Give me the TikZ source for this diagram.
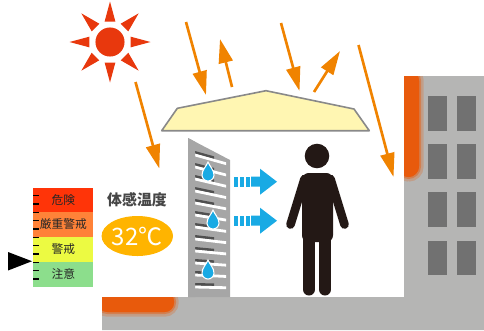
\documentclass[tikz,border=0pt]{standalone}
\usepackage{fontspec}
\newfontfamily\jp{Noto Sans CJK JP}
\usetikzlibrary{arrows.meta,calc}
\definecolor{groundgray}{RGB}{181,181,180}
\definecolor{windowgray}{RGB}{113,113,113}
\definecolor{glowc}{RGB}{232,90,12}
\definecolor{sunred}{RGB}{232,56,13}
\definecolor{rayorange}{RGB}{240,131,0}
\definecolor{canopyfill}{RGB}{255,246,178}
\definecolor{canopyline}{RGB}{137,137,137}
\definecolor{badge}{RGB}{255,180,0}
\definecolor{labelgray}{RGB}{70,70,70}
\definecolor{personc}{RGB}{35,24,21}
\definecolor{dropblue}{RGB}{25,170,228}
\definecolor{panelgray}{RGB}{166,166,166}
\definecolor{slatdark}{RGB}{80,80,80}
\definecolor{lvred}{RGB}{255,52,8}
\definecolor{lvorange}{RGB}{255,130,56}
\definecolor{lvyellow}{RGB}{236,250,66}
\definecolor{lvgreen}{RGB}{140,222,140}
\tikzset{
  ray/.style={draw=rayorange, line width=2pt, -{Triangle[length=18pt,width=10.5pt]}},
  windowbox/.style={fill=windowgray},
  limb/.style={draw=personc, line cap=round},
  tick/.style={draw=black, line width=1pt},
  levellabel/.style={font=\jp\fontsize{8.8pt}{9pt}\selectfont, text=black!85, inner sep=0pt},
  waterdrop/.pic={
    \path[fill=dropblue, draw=white, line width=0.8pt]
      (0,-10) .. controls (1.5,-6) and (6,-2) .. (6,3)
      .. controls (6,6.3) and (3.3,9) .. (0,9)
      .. controls (-3.3,9) and (-6,6.3) .. (-6,3)
      .. controls (-6,-2) and (-1.5,-6) .. (0,-10) -- cycle;
  },
  flowarrow/.pic={
    \fill[dropblue] (0,-5) rectangle (3.5,5);
    \fill[dropblue] (6,-5) rectangle (9.5,5);
    \fill[dropblue] (12,-5) rectangle (15.5,5);
    \fill[dropblue] (17,-5) -- (26,-5) -- (26,-13) -- (43,0) -- (26,13) -- (26,5) -- (17,5) -- cycle;
  }
}
\begin{document}
\begin{tikzpicture}[x=0.75pt,y=-0.75pt]
\useasboundingbox (0,0) rectangle (484,330);

% ground and building
\fill[groundgray] (102,297) -- (404,297) -- (404,76) -- (484,76) -- (484,330) -- (102,330) -- cycle;

% warm glow on the ground
\begin{scope}
  \clip (102,297) rectangle (404,330);
  \path[fill=glowc, draw=glowc, draw opacity=0.25, line width=7pt, rounded corners=7pt]
    (98,292) -- (174,292) -- (174,312) -- (98,312) -- cycle;
  \path[fill=glowc, draw=glowc, draw opacity=0.45, line width=3pt, rounded corners=7pt]
    (98,292) -- (174,292) -- (174,312) -- (98,312) -- cycle;
\end{scope}

% warm glow on the building wall
\begin{scope}
  \clip (404,76) rectangle (484,330);
  \path[fill=glowc, draw=glowc, draw opacity=0.25, line width=7pt, rounded corners=8pt]
    (398,70) -- (419,70) -- (419,177) -- (398,177) -- cycle;
  \path[fill=glowc, draw=glowc, draw opacity=0.45, line width=3pt, rounded corners=8pt]
    (398,70) -- (419,70) -- (419,177) -- (398,177) -- cycle;
\end{scope}

% windows
\foreach \yt in {96,144,192.3,240.5}{
  \fill[windowbox] (428.3,\yt) rectangle (446.7,\yt+34.5);
  \fill[windowbox] (457.3,\yt) rectangle (476,\yt+34.5);
}

% sun
\coordinate (sc) at (110,42);
\fill[sunred] (sc) circle (10.9pt);
\foreach \a in {0,45,...,315}{
  \fill[sunred] ([shift={(\a:40.5)}]sc) -- ([shift={(\a+14.7:21.2)}]sc) -- ([shift={(\a-14.7:21.2)}]sc) -- cycle;
}

% canopy
\draw[fill=canopyfill, draw=canopyline, line width=1.2pt, line join=round]
  (161.7,130.7) -- (177.3,108.3) -- (266,90.7) -- (354,109) -- (369.3,130.7) -- cycle;

% sun rays and reflections
\coordinate (r1s) at (186,22);  \coordinate (r1e) at (206,95);
\coordinate (r2s) at (232,87);  \coordinate (r2e) at (220,39);
\coordinate (r3s) at (281,23);  \coordinate (r3e) at (299.5,91);
\coordinate (r4s) at (314,92);  \coordinate (r4e) at (340,51);
\coordinate (r5s) at (358.5,45); \coordinate (r5e) at (393.5,177);
\coordinate (r6s) at (135.5,82); \coordinate (r6e) at (159.3,168.5);
\foreach \n in {1,...,6}{ \draw[ray] (r\n s) -- (r\n e); }

% louver panel
\fill[panelgray] (188,138) -- (230,160) -- (230,297) -- (188,297) -- cycle;
\begin{scope}
  \clip (188,138) -- (230,160) -- (230,297) -- (188,297) -- cycle;
  \foreach \i in {0,...,11}{
    \pgfmathsetmacro\yy{151+12*\i}
    \pgfmathsetmacro\s{0.28*(1-\i/12)}
    \fill[slatdark] (195,\yy) -- (214,\yy+19*\s) -- (214,\yy+19*\s+2.6) -- (195,\yy+2.6) -- cycle;
    \fill[white] (195,\yy+2.6) -- (226,\yy+31*\s+2.6) -- (226,\yy+31*\s+5.4) -- (195,\yy+5.4) -- cycle;
  }
\end{scope}
\fill[panelgray] (188,138) -- (195,141.7) -- (195,297) -- (188,297) -- cycle;

% water drops
\pic at (208,172) {waterdrop};
\pic at (213,220) {waterdrop};
\pic at (208,270) {waterdrop};

% cooled air flow
\pic at (234,181.7) {flowarrow};
\pic at (234,220.7) {flowarrow};

% person
\fill[personc] (317,156) circle (9.2pt);
\fill[personc, rounded corners=5pt] (302,173) rectangle (333,242);
\draw[limb, line width=6.5pt] (304.5,179) -- (290.5,224.5);
\draw[limb, line width=6.5pt] (330.5,179) -- (344.5,224.5);
\draw[limb, line width=9pt] (309,234) -- (309,289.5);
\draw[limb, line width=9pt] (325,234) -- (325,289.5);

% heat index scale
\fill[lvred]    (33.3,188.3) rectangle (93.3,211.7);
\fill[lvorange] (33.3,211.7) rectangle (93.3,236.7);
\fill[lvyellow] (33.3,236.7) rectangle (93.3,261.7);
\fill[lvgreen]  (33.3,261.7) rectangle (93.3,286.7);
\foreach \k in {0,...,10}{
  \draw[tick] (33.3,195.7+8.33*\k) -- (38.5,195.7+8.33*\k);
}
\node[levellabel] (l1) at (63.3,200)   {危険};
\node[levellabel] (l2) at (63.3,224.2) {厳重警戒};
\node[levellabel] (l3) at (63.3,249.2) {警戒};
\node[levellabel] (l4) at (63.3,274.2) {注意};
\fill[black] (8,252) -- (8,270.5) -- (32,261.2) -- cycle;

% felt temperature
\node[font=\jp\bfseries\fontsize{11.2pt}{12pt}\selectfont, text=labelgray, inner sep=0pt] (feel) at (137,200) {体感温度};
\fill[badge] (137.3,236) ellipse (26.8pt and 15pt);
\node[font=\jp\fontsize{18pt}{19pt}\selectfont, text=white, inner sep=0pt] (temp) at (137.3,236.5) {32℃};

\end{tikzpicture}
\end{document}
